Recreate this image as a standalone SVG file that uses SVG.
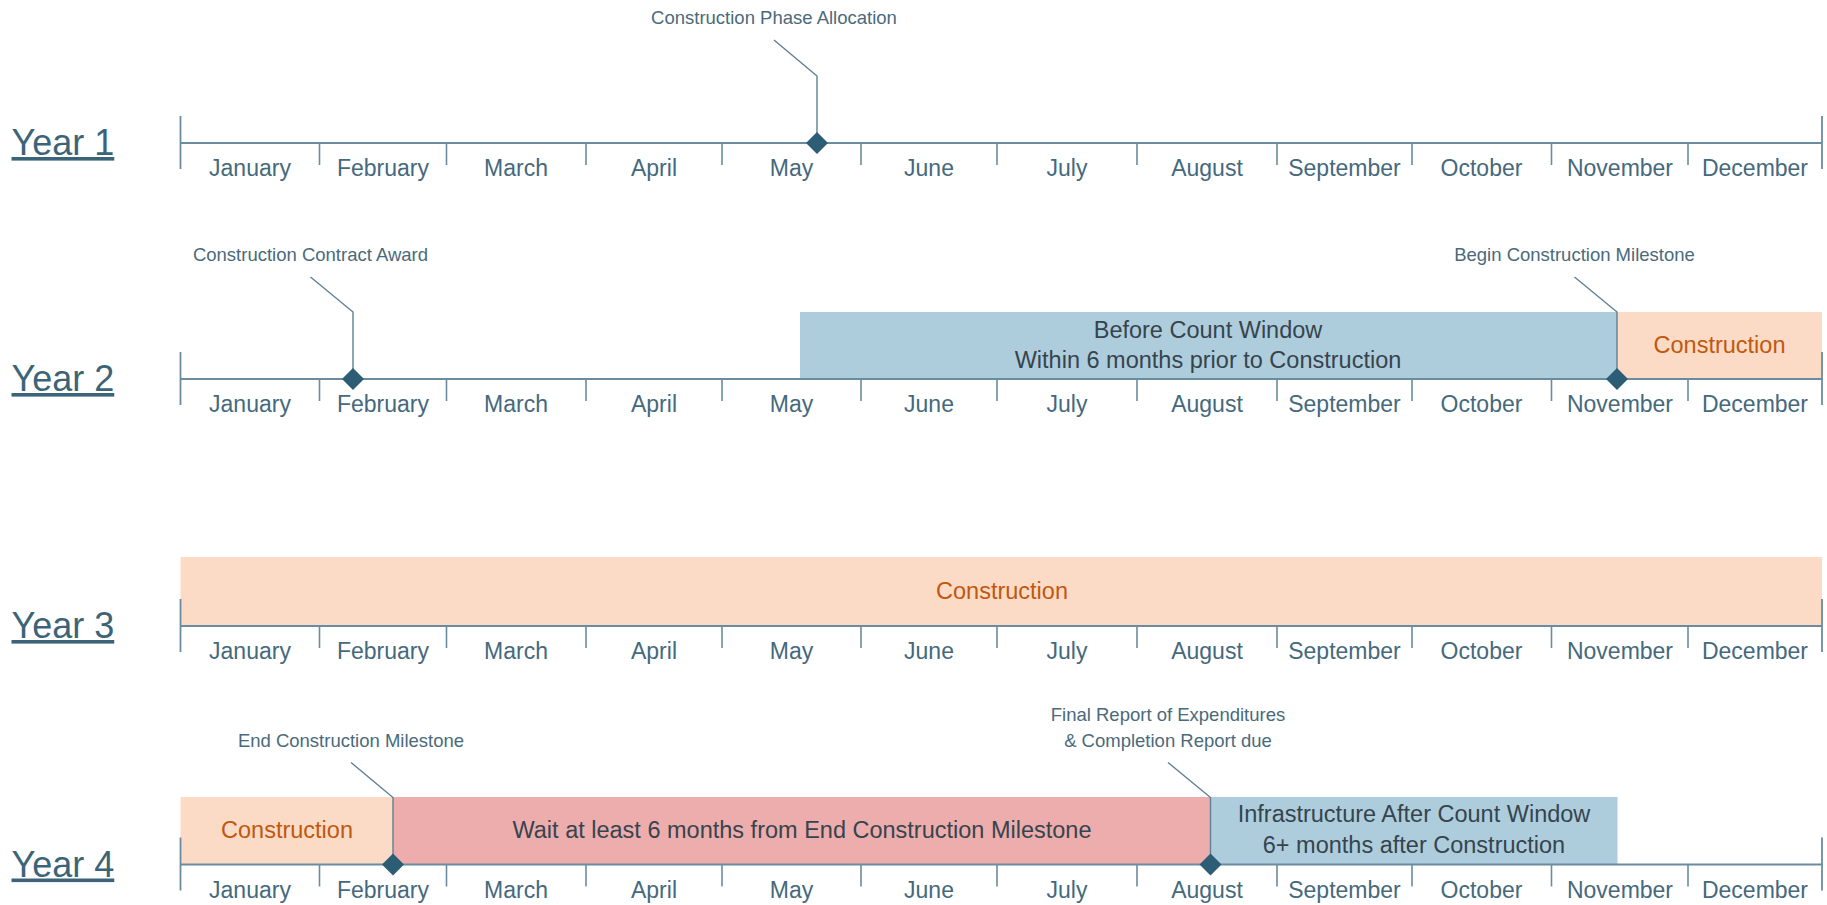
<svg xmlns="http://www.w3.org/2000/svg" width="1827" height="905" viewBox="0 0 1827 905">
  <defs>
    <style>
      .bg { fill: #ffffff; }
      .axis { stroke: #6B8C9E; stroke-width: 2; fill: none; }
      .tick { stroke: #6B8C9E; stroke-width: 1.6; fill: none; }
      .endtick { stroke: #6B8C9E; stroke-width: 1.8; fill: none; }
      .year { font-family: "Liberation Sans", Arial, sans-serif; font-size: 36px; fill: #3C6478; text-decoration: underline; }
      .month { font-family: "Liberation Sans", Arial, sans-serif; font-size: 23px; fill: #45697D; text-anchor: middle; }
      .callout { font-family: "Liberation Sans", Arial, sans-serif; font-size: 18.5px; fill: #4A6A7B; text-anchor: middle; }
      .leader { stroke: #5E8193; stroke-width: 1.4; fill: none; }
      .diamond { fill: #2C5D74; }
      .blue { fill: #AECDDC; }
      .orange { fill: #FCDBC6; }
      .red { fill: #EEADAD; }
      .bartext { font-family: "Liberation Sans", Arial, sans-serif; font-size: 23.5px; fill: #36444E; text-anchor: middle; }
      .constext { font-family: "Liberation Sans", Arial, sans-serif; font-size: 23.5px; fill: #C0580F; text-anchor: middle; }
    </style>
    <!-- one year of months, axis at y=0 -->
    <g id="timeline">
      <line class="axis" x1="180.5" y1="0" x2="1822" y2="0"/>
      <line class="endtick" x1="180.5" y1="-27" x2="180.5" y2="26"/>
      <line class="endtick" x1="1822" y1="-27" x2="1822" y2="26"/>
      <path class="tick" d="M319.5,0V22M446.5,0V22M586,0V22M722,0V22M861,0V22M997,0V22M1137,0V22M1277,0V22M1412,0V22M1551.5,0V22M1688,0V22"/>
      <text class="month" x="250" y="33">January</text>
      <text class="month" x="383" y="33">February</text>
      <text class="month" x="516" y="33">March</text>
      <text class="month" x="654" y="33">April</text>
      <text class="month" x="791.5" y="33">May</text>
      <text class="month" x="929" y="33">June</text>
      <text class="month" x="1067" y="33">July</text>
      <text class="month" x="1207" y="33">August</text>
      <text class="month" x="1344.5" y="33">September</text>
      <text class="month" x="1481.5" y="33">October</text>
      <text class="month" x="1620" y="33">November</text>
      <text class="month" x="1755" y="33">December</text>
    </g>
    <polygon id="dia" class="diamond" points="0,-11 11,0 0,11 -11,0"/>
  </defs>

  <rect class="bg" x="0" y="0" width="1827" height="905"/>

  <!-- period bars -->
  <g id="bar-before-count">
    <rect class="blue" x="800" y="312" width="817" height="67"/>
    <text class="bartext" x="1208" y="337.5">Before Count Window</text>
    <text class="bartext" x="1208" y="368">Within 6 months prior to Construction</text>
  </g>
  <g id="bar-construction-y2">
    <rect class="orange" x="1617" y="312" width="205" height="67"/>
    <text class="constext" x="1719.5" y="353">Construction</text>
  </g>
  <g id="bar-construction-y3">
    <rect class="orange" x="180.5" y="557" width="1641.5" height="69"/>
    <text class="constext" x="1002" y="599">Construction</text>
  </g>
  <g id="bar-construction-y4">
    <rect class="orange" x="180.5" y="797" width="212.5" height="67.5"/>
    <text class="constext" x="287" y="838">Construction</text>
  </g>
  <g id="bar-wait">
    <rect class="red" x="393" y="797" width="817.5" height="67.5"/>
    <text class="bartext" x="802" y="838">Wait at least 6 months from End Construction Milestone</text>
  </g>
  <g id="bar-after-count">
    <rect class="blue" x="1210.5" y="797" width="407" height="67.5"/>
    <text class="bartext" x="1414" y="822">Infrastructure After Count Window</text>
    <text class="bartext" x="1414" y="853">6+ months after Construction</text>
  </g>

  <!-- yearly timelines -->
  <g id="year1">
    <text class="year" x="11.5" y="155">Year 1</text>
    <use href="#timeline" transform="translate(0,143)"/>
  </g>
  <g id="year2">
    <text class="year" x="11.5" y="391">Year 2</text>
    <use href="#timeline" transform="translate(0,379)"/>
  </g>
  <g id="year3">
    <text class="year" x="11.5" y="638">Year 3</text>
    <use href="#timeline" transform="translate(0,626)"/>
  </g>
  <g id="year4">
    <text class="year" x="11.5" y="876.5">Year 4</text>
    <use href="#timeline" transform="translate(0,864.5)"/>
  </g>

  <!-- milestone leader lines -->
  <g id="connectors">
    <path class="leader" d="M774,40 L817,76 V143"/>
    <path class="leader" d="M310.5,277 L353,312 V379"/>
    <path class="leader" d="M1574.5,277 L1617,312 V379"/>
    <path class="leader" d="M351,762.5 L393,797.5 V864.5"/>
    <path class="leader" d="M1168,762.5 L1210.5,797.5 V864.5"/>
  </g>

  <!-- milestones -->
  <g id="ms-phase-allocation">
    <use href="#dia" transform="translate(817,143)"/>
    <text class="callout" x="774" y="24">Construction Phase Allocation</text>
  </g>
  <g id="ms-contract-award">
    <use href="#dia" transform="translate(353,379)"/>
    <text class="callout" x="310.5" y="261">Construction Contract Award</text>
  </g>
  <g id="ms-begin-construction">
    <use href="#dia" transform="translate(1617,379)"/>
    <text class="callout" x="1574.5" y="261">Begin Construction Milestone</text>
  </g>
  <g id="ms-end-construction">
    <use href="#dia" transform="translate(393,864.5)"/>
    <text class="callout" x="351" y="746.5">End Construction Milestone</text>
  </g>
  <g id="ms-final-report">
    <use href="#dia" transform="translate(1210.5,864.5)"/>
    <text class="callout" x="1168" y="721">Final Report of Expenditures</text>
    <text class="callout" x="1168" y="746.5">&amp; Completion Report due</text>
  </g>
</svg>
